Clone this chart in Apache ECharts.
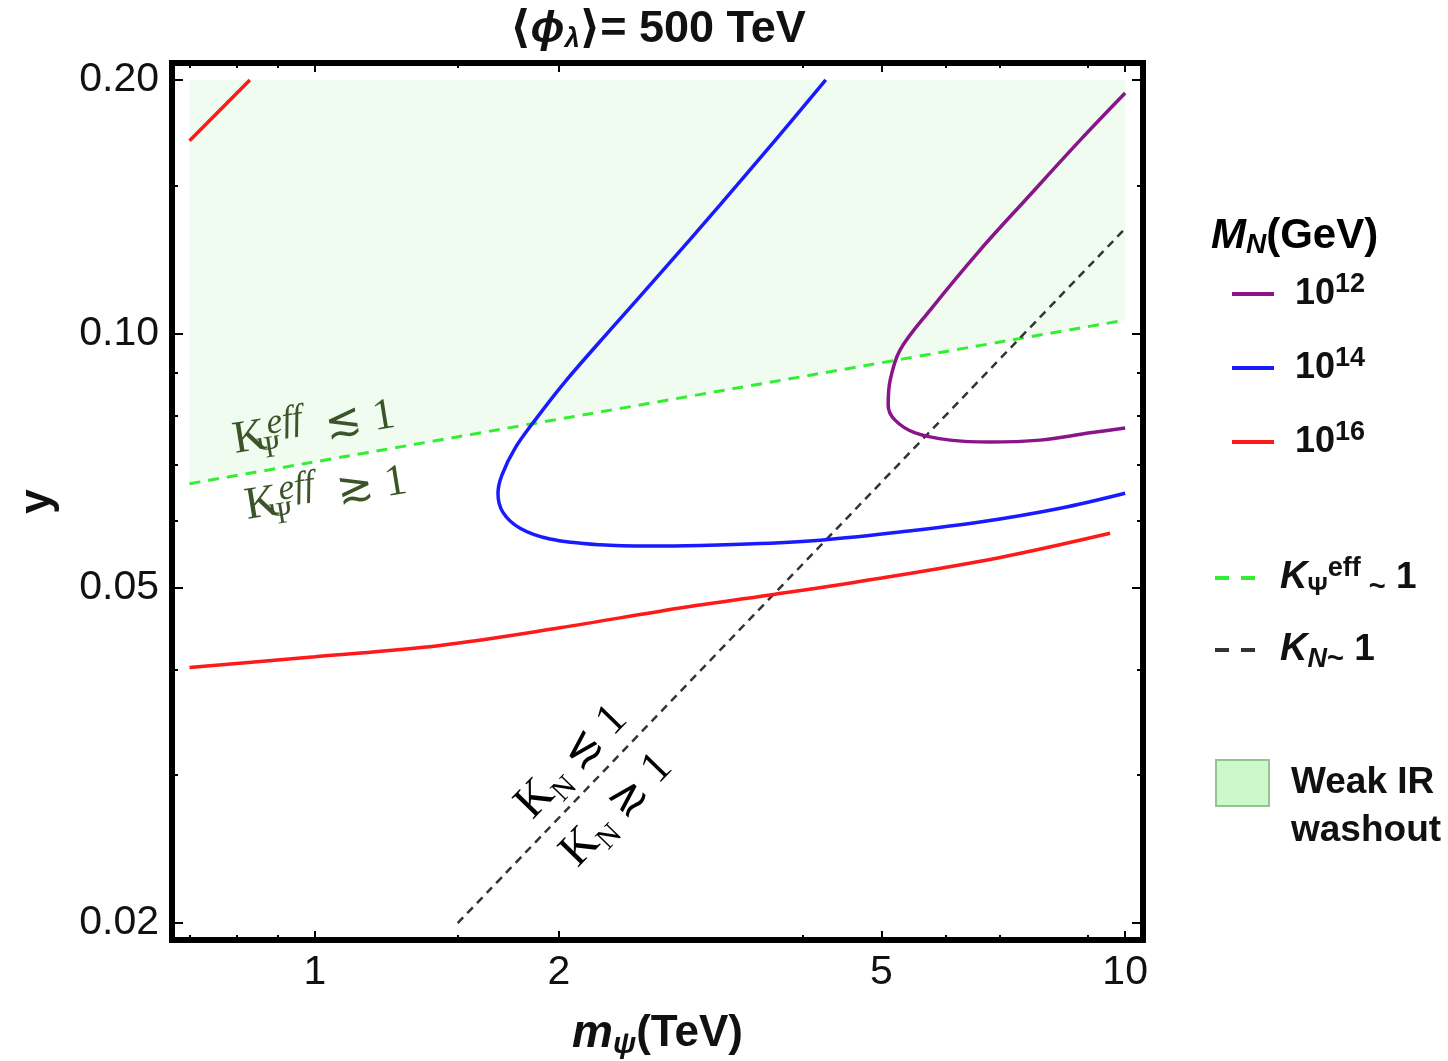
<!DOCTYPE html>
<html>
<head>
<meta charset="utf-8">
<script src="https://cdn.jsdelivr.net/npm/echarts@6/dist/echarts.min.js"></script>
<style>
html, body { margin: 0; padding: 0; background: #fff; }
#chart { width: 1448px; height: 1061px; }
</style>
</head>
<body>
<div id="chart"></div>
<script>
// axis ticks (m_psi in TeV, coupling y)
const xMajorTicks = [1, 2, 5, 10]
const xMinorTicks = [0.7, 0.8, 0.9, 1.5, 4, 6, 7, 9]
const yMajorTicks = [0.2, 0.1, 0.05, 0.02]
const yMinorTicks = [0.15, 0.09, 0.08, 0.07, 0.06, 0.04, 0.03]

// M_N = 10^12 GeV
const purpleX = [10, 8.80, 7.63, 6.62, 5.745, 5.275, 5.128, 5.099, 5.20, 5.505, 6.08, 6.81, 7.85, 9.05, 10]
const purpleY = [0.193, 0.1697, 0.1461, 0.1257, 0.1067, 0.0957, 0.0881, 0.0823, 0.0790, 0.0763, 0.0748, 0.0744, 0.0748, 0.0763, 0.0773]
// M_N = 10^14 GeV
const blueX = [4.27, 3.70, 3.16, 2.705, 2.313, 2.035, 1.869, 1.766, 1.701, 1.682, 1.706, 1.791, 1.950, 2.248, 2.592, 2.988, 3.543, 4.27, 5.275, 6.62, 8.316, 10]
const blueY = [0.2, 0.1697, 0.1421, 0.1197, 0.1010, 0.0877, 0.0790, 0.0732, 0.0680, 0.0647, 0.0614, 0.0588, 0.0571, 0.0562, 0.0560, 0.0561, 0.0564, 0.0570, 0.0582, 0.0598, 0.0621, 0.0647]
// M_N = 10^16 GeV (two pieces)
const redTopX = [0.7, 0.831]
const redTopY = [0.1694, 0.2]
const redX = [0.7, 1, 1.427, 2.006, 2.822, 3.645, 4.985, 7.01, 9.58]
const redY = [0.0402, 0.0414, 0.0427, 0.0448, 0.0473, 0.0490, 0.0513, 0.0543, 0.0580]
// K_psi^eff ~ 1 and K_N ~ 1
const kPsiX = [0.7, 10]
const kPsiY = [0.0664, 0.1038]
const kNX = [1.5, 10]
const kNY = [0.02, 0.1333]
// weak IR washout region reaches up to
const fillTop = 0.2

const xMin = Math.log10(0.666)
const xMax = Math.log10(10.52)
const yMin = Math.log10(0.0191)
const yMax = Math.log10(0.2095)

const sans = 'Liberation Sans, Arial, DejaVu Sans, sans-serif'
const serif = 'Liberation Serif, DejaVu Serif, serif'

function pts(xs, ys) {
  return xs.map((x, i) => [Math.log10(x), Math.log10(ys[i])])
}

function axis(dim, position, ticks, len, label) {
  const a = {
    type: 'value',
    position: position,
    min: dim === 'x' ? xMin : yMin,
    max: dim === 'x' ? xMax : yMax,
    axisLine: { show: true, onZero: false, lineStyle: { color: '#000', width: 6, cap: 'square' } },
    axisTick: {
      show: true, inside: true, length: len,
      lineStyle: { color: '#000', width: 2 },
      customValues: ticks.map(v => Math.log10(v))
    },
    axisLabel: { show: false },
    splitLine: { show: false }
  }
  if (label) {
    a.axisLabel = {
      show: true,
      customValues: ticks.map(v => Math.log10(v)),
      fontSize: 41,
      fontFamily: sans,
      color: '#111',
      margin: dim === 'x' ? 12 : 13,
      formatter: v => dim === 'x' ? String(Math.round(Math.pow(10, v))) : Math.pow(10, v).toFixed(2)
    }
  }
  return a
}

const xAxes = [
  axis('x', 'bottom', xMajorTicks, 9, true),
  axis('x', 'bottom', xMinorTicks, 5, false),
  axis('x', 'top', xMajorTicks, 9, false),
  axis('x', 'top', xMinorTicks, 5, false)
]
const yAxes = [
  axis('y', 'left', yMajorTicks, 11, true),
  axis('y', 'left', yMinorTicks, 6, false),
  axis('y', 'right', yMajorTicks, 11, false),
  axis('y', 'right', yMinorTicks, 6, false)
]

xAxes[0].name = '{m|m}{sub|ψ}{b|(TeV)}'
xAxes[0].nameLocation = 'middle'
xAxes[0].nameGap = 68
xAxes[0].nameTextStyle = {
  rich: {
    m: { fontSize: 46, fontWeight: 'bold', fontStyle: 'italic', fontFamily: sans, color: '#111', lineHeight: 52 },
    sub: { fontSize: 30, fontWeight: 'bold', fontStyle: 'italic', fontFamily: sans, color: '#111', verticalAlign: 'bottom', lineHeight: 30 },
    b: { fontSize: 44, fontWeight: 'bold', fontFamily: sans, color: '#111', lineHeight: 52 }
  }
}
yAxes[0].name = 'y'
yAxes[0].nameLocation = 'middle'
yAxes[0].nameGap = 112
yAxes[0].nameTextStyle = { fontSize: 44, fontWeight: 'bold', fontFamily: sans, color: '#111' }

const lineSeries = (name, data, color, width, type) => ({
  name: name,
  type: 'line',
  data: data,
  smooth: 0.35,
  symbol: 'none',
  z: 3,
  lineStyle: { color: color, width: width, type: type || 'solid' },
  itemStyle: { color: color },
  emphasis: { disabled: true }
})

const fillPoly = pts([kPsiX[0], kPsiX[1], kPsiX[1], kPsiX[0]], [fillTop, fillTop, kPsiY[1], kPsiY[0]])

const supStyle = (size, italic) => ({ fontSize: size, fontWeight: 'bold', fontStyle: italic ? 'italic' : 'normal', fontFamily: sans, color: '#111', verticalAlign: 'top', lineHeight: 20 })
const subStyle = (size, italic) => ({ fontSize: size, fontWeight: 'bold', fontStyle: italic ? 'italic' : 'normal', fontFamily: sans, color: '#111', verticalAlign: 'bottom', lineHeight: 22 })
const mainStyle = (size, italic) => ({ fontSize: size, fontWeight: 'bold', fontStyle: italic ? 'italic' : 'normal', fontFamily: sans, color: '#111', lineHeight: 46 })

// serif annotation tokens for graphic texts
const annot = (color, big) => ({
  k: { fontSize: big, fontStyle: 'normal', fontWeight: 'normal', fontFamily: serif, fill: color, lineHeight: 58 },
  sub: { fontSize: 30, fontStyle: 'normal', fontWeight: 'normal', fontFamily: serif, fill: color, verticalAlign: 'bottom', lineHeight: 28 },
  subw: { fontSize: 31, fontStyle: 'normal', fontWeight: 'normal', fontFamily: serif, fill: color, verticalAlign: 'bottom', lineHeight: 28, width: 2 },
  sup: { fontSize: 36, fontStyle: 'italic', fontWeight: 'normal', fontFamily: serif, fill: color, verticalAlign: 'top', lineHeight: 32 },
  r: { fontSize: big - 2, fontStyle: 'normal', fontWeight: 'normal', fontFamily: serif, fill: color, lineHeight: 58 }
})

const option = {
  animation: false,
  backgroundColor: '#fff',
  title: {
    text: '{b|⟨}{i|ϕ}{sub|λ}{b|⟩= 500 TeV}',
    left: 505,
    top: 2,
    textStyle: {
      rich: {
        b: mainStyle(45, false),
        i: mainStyle(45, true),
        sub: subStyle(27, true)
      }
    }
  },
  grid: { left: 172, right: 305, top: 63, bottom: 121, outerBoundsMode: 'none' },
  xAxis: xAxes,
  yAxis: yAxes,
  legend: [
    {
      data: ['10^12', '10^14', '10^16'],
      orient: 'vertical',
      left: 1225,
      top: 266,
      itemWidth: 42,
      itemHeight: 20,
      itemGap: 33,
      selectedMode: false,
      itemStyle: { opacity: 0 },
      lineStyle: { width: 4 },
      formatter: name => '{n|10}{s|' + name.slice(3) + '}',
      textStyle: {
        padding: [0, 0, 0, 16],
        rich: { n: mainStyle(36, false), s: supStyle(27, false) }
      }
    },
    {
      data: ['Kpsi', 'KN'],
      orient: 'vertical',
      left: 1208,
      top: 550,
      itemWidth: 42,
      itemHeight: 20,
      itemGap: 30,
      selectedMode: false,
      itemStyle: { opacity: 0 },
      lineStyle: { type: [14, 12], width: 4 },
      formatter: name => name === 'Kpsi'
        ? '{k|K}{sub|Ψ}{sup|eff}{t| ~}{n| 1}'
        : '{k|K}{subi|N}{t|~}{n| 1}',
      textStyle: {
        padding: [0, 0, 0, 18],
        rich: {
          k: mainStyle(38, true),
          sub: subStyle(25, false),
          subi: subStyle(27, true),
          sup: supStyle(27, false),
          t: subStyle(29, false),
          n: mainStyle(37, false)
        }
      }
    },
    {
      data: [{ name: 'Weak IR washout', icon: 'rect', itemStyle: { color: '#ccf8cc', borderColor: '#93c293', borderWidth: 2 } }],
      left: 1210,
      top: 754,
      itemWidth: 53,
      itemHeight: 46,
      selectedMode: false,
      formatter: () => '{a|Weak IR}\n{a|washout}',
      textStyle: {
        padding: [48, 0, 0, 17],
        rich: { a: { fontSize: 37, fontWeight: 'bold', fontFamily: sans, color: '#111', lineHeight: 48 } }
      }
    }
  ],
  graphic: [
    {
      type: 'text', x: 1211, y: 236, z: 10,
      style: {
        text: '{m|M}{sub|N}{b|(GeV)}',
        verticalAlign: 'middle',
        rich: { m: mainStyle(42, true), sub: subStyle(28, true), b: mainStyle(42, false) }
      }
    },
    {
      type: 'text', x: 314, y: 428, rotation: 0.16, z: 10,
      style: {
        text: '{k|K}{subw|Ψ}{sup|eff}{r|  ≲ 1}',
        align: 'center', verticalAlign: 'middle', fill: '#3a5527',
        rich: annot('#3a5527', 46)
      }
    },
    {
      type: 'text', x: 326, y: 494, rotation: 0.16, z: 10,
      style: {
        text: '{k|K}{subw|Ψ}{sup|eff}{r|  ≳ 1}',
        align: 'center', verticalAlign: 'middle', fill: '#3a5527',
        rich: annot('#3a5527', 46)
      }
    },
    {
      type: 'text', x: 572, y: 762, rotation: 0.8, z: 10,
      style: {
        text: '{k|K}{sub|N}{r| ≲ 1}',
        align: 'center', verticalAlign: 'middle', fill: '#000',
        rich: annot('#000', 47)
      }
    },
    {
      type: 'text', x: 617, y: 810, rotation: 0.8, z: 10,
      style: {
        text: '{k|K}{sub|N}{r| ≳ 1}',
        align: 'center', verticalAlign: 'middle', fill: '#000',
        rich: annot('#000', 47)
      }
    }
  ],
  series: [
    {
      name: 'Weak IR washout',
      type: 'custom',
      z: 1,
      data: fillPoly,
      itemStyle: { color: '#effcef' },
      renderItem: (params, api) => {
        if (params.dataIndex !== 0) return null
        return {
          type: 'polygon',
          shape: { points: fillPoly.map(p => api.coord(p)) },
          style: { fill: '#effcef' }
        }
      }
    },
    lineSeries('Kpsi', pts(kPsiX, kPsiY), '#33ee33', 3, [11, 8]),
    lineSeries('KN', pts(kNX, kNY), '#333333', 2.5, [8, 6]),
    lineSeries('10^12', pts(purpleX, purpleY), '#8a148a', 3.5),
    lineSeries('10^14', pts(blueX, blueY), '#1a1aff', 3.5),
    lineSeries('10^16', pts(redTopX, redTopY), '#ff1a1a', 3.5),
    lineSeries('10^16', pts(redX, redY), '#ff1a1a', 3.5)
  ]
}

const chart = echarts.init(document.getElementById('chart'))
chart.setOption(option)
</script>
</body>
</html>
